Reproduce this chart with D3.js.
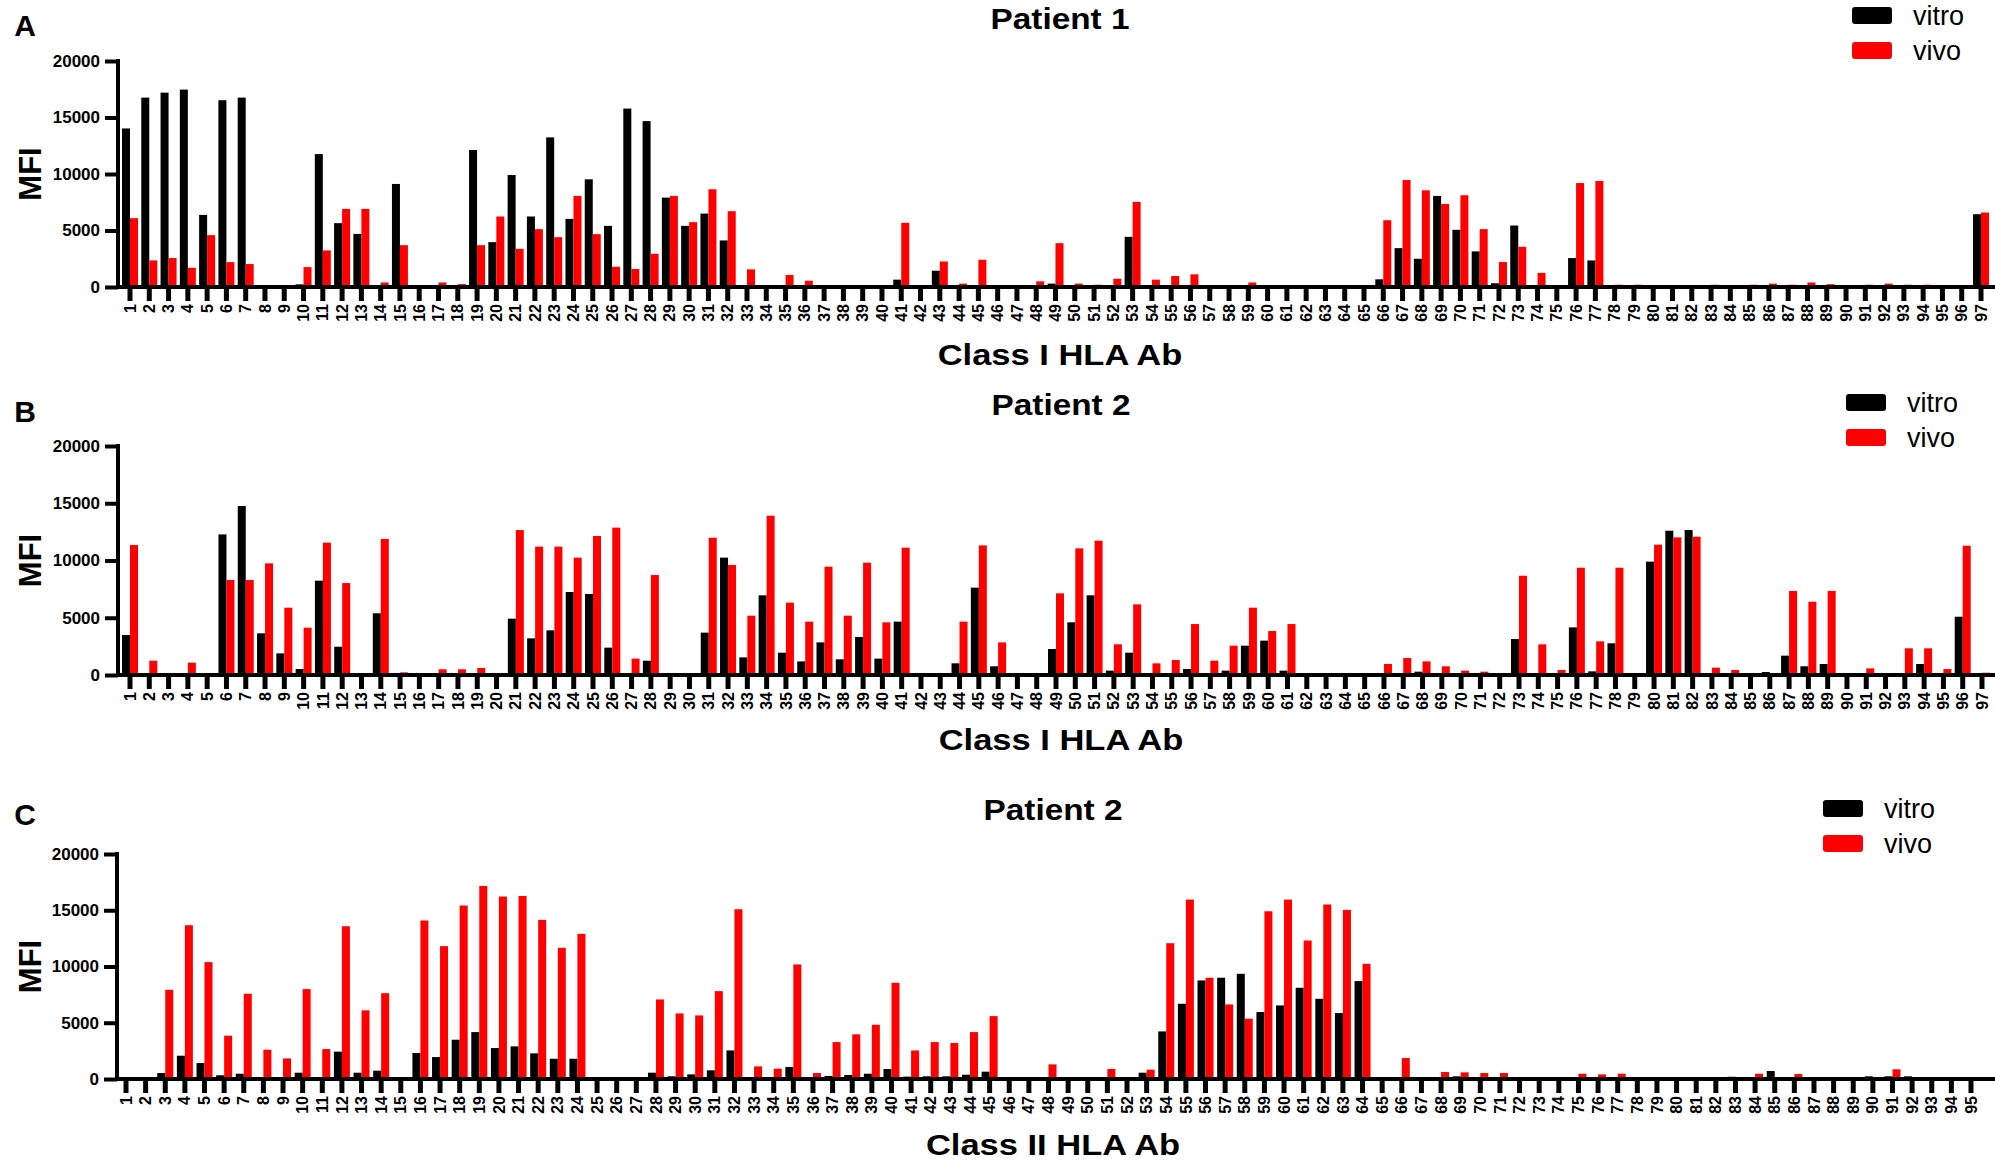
<!DOCTYPE html>
<html lang="en">
<head>
<meta charset="UTF-8">
<title>HLA Ab MFI</title>
<style>
  body { margin: 0; background: #fff; }
  text { font-family: Arial, "Liberation Sans", sans-serif; }
</style>
</head>
<body>
<svg id="chart" width="1995" height="1163"></svg>
<script src="https://d3js.org/d3.v7.min.js"></script>
<script>
// categories (antibody index)
const catsClassI = d3.range(1, 98).map(String);
const catsClassII = d3.range(1, 96).map(String);
const yTicks = [0, 5000, 10000, 15000, 20000];
const series = ["vitro", "vivo"];

// Panel A - Patient 1, class I
const vitroA = [14030,16760,17200,17470,6380,16530,16760,0,0,235,
  11760,5650,4700,0,9120,0,0,0,12120,3970,
  9910,6240,13240,6030,9530,5410,15790,14680,7910,5410,
  6500,4120,0,0,0,0,0,0,0,0,
  650,0,1440,0,50,0,0,60,300,0,
  0,0,4440,0,0,0,0,0,0,0,
  0,0,0,0,0,680,3440,2500,8060,5060,
  3150,330,5440,0,0,2560,2350,0,0,0,
  0,0,0,0,0,80,0,0,0,0,
  0,0,0,0,0,0,6440];
const vivoA = [6090,2350,2560,1700,4590,2200,2030,150,100,1760,
  3240,6910,6910,400,3700,100,400,260,3700,6240,
  3380,5120,4410,8060,4680,1790,1590,2940,8060,5740,
  8650,6710,1560,0,1060,560,0,100,0,0,
  5680,0,2260,300,2410,80,80,500,3880,300,
  200,730,7530,650,970,1120,0,150,400,0,
  0,0,0,0,0,5910,9470,8560,7350,8120,
  5120,2210,3560,1250,0,9200,9380,200,200,100,
  100,100,200,150,200,300,200,400,250,150,
  200,300,200,200,0,100,6590];

// Panel B - Patient 2, class I
const vitroB = [3490,0,0,0,0,12280,14760,3640,1890,520,
  8240,2470,0,5390,0,0,0,0,0,0,
  4920,3200,3900,7250,7070,2390,0,1250,0,0,
  3700,10250,1540,6960,1950,1190,2850,1370,3320,1430,
  4660,0,0,1020,7630,760,0,0,2270,4600,
  6960,380,1950,0,0,520,0,380,2560,3000,
  380,0,0,0,0,0,0,290,0,0,
  0,0,3140,0,0,4160,320,2770,0,9900,
  12600,12660,0,0,170,260,1690,760,960,0,
  0,170,170,960,0,5090,0];
const vivoB = [11350,1250,0,1080,0,8300,8300,9750,5880,4130,
  11560,8030,0,11880,230,0,500,500,610,0,
  12660,11210,11210,10250,12140,12870,1430,8730,0,0,
  11990,9610,5180,13910,6320,4660,9460,5180,9810,4600,
  11120,0,0,4660,11320,2850,150,0,7130,11060,
  11730,2680,6170,1020,1310,4450,1250,2560,5880,3840,
  4450,0,0,0,0,960,1480,1190,760,380,
  290,0,8670,2680,440,9370,2940,9370,0,11380,
  12020,12080,640,440,0,170,7340,6400,7340,0,
  580,170,2330,2330,520,11290,200];

// Panel C - Patient 2, class II
const vitroC = [0,0,530,2070,1420,330,470,180,100,560,
  180,2430,560,740,0,2310,1950,3490,4170,2750,
  2900,2280,1800,1800,0,0,0,560,240,410,
  770,2540,120,0,1070,0,270,360,470,890,
  210,240,240,380,650,90,0,0,0,0,
  150,0,560,4230,6690,8760,9000,9350,5950,6540,
  8110,7130,5860,8700,0,150,90,90,240,0,
  0,90,100,0,0,0,0,120,80,80,
  80,0,200,0,710,0,80,0,80,240,
  240,240,80,100,80];
const vivoC = [0,0,7930,13670,10390,3850,7580,2600,1830,7990,
  2660,13580,6100,7630,120,14090,11810,15420,17160,16220,
  16270,14140,11660,12900,0,0,0,7070,5830,5650,
  7810,15090,1120,920,10180,530,3280,3970,4820,8550,
  2540,3280,3200,4170,5590,0,0,1300,90,90,
  890,150,830,12070,15950,9000,6630,5360,14910,15950,
  12310,15510,15030,10240,150,1860,0,620,590,530,
  530,0,0,0,470,410,470,0,0,0,
  0,0,0,470,120,440,0,0,0,0,
  860,0,0,0,0];

const colors = { vitro: "#000000", vivo: "#ff0000" };
const svg = d3.select("#chart");

function drawPanel(p) {
  const g = svg.append("g");
  const n = p.cats.length;
  const step = (p.lastX - p.firstX) / (n - 1);

  const x = d3.scaleBand()
    .domain(p.cats)
    .range([p.firstX - step / 2, p.lastX + step / 2])
    .padding(0);
  const y = d3.scaleLinear().domain([0, 20000]).range([p.y0, p.y1]);
  const bw = 8;
  const xs = d3.scaleBand().domain(series).range([-bw, bw]);

  const rows = p.cats.map((c, i) => ({ cat: c, vitro: p.vitro[i], vivo: p.vivo[i] }));

  // bars
  g.append("g")
    .selectAll("g")
    .data(rows)
    .join("g")
      .attr("transform", d => `translate(${x(d.cat) + x.bandwidth() / 2},0)`)
    .selectAll("rect")
    .data(d => series.map(s => ({ key: s, value: d[s] })))
    .join("rect")
      .attr("x", d => xs(d.key))
      .attr("width", xs.bandwidth())
      .attr("y", d => y(d.value))
      .attr("height", d => p.y0 - y(d.value))
      .attr("fill", d => colors[d.key]);

  // y axis
  const yAxis = g.append("g")
    .attr("transform", `translate(${p.axisX},0)`)
    .call(d3.axisLeft(y).tickValues(yTicks).tickFormat(d3.format("d"))
      .tickSize(13).tickSizeOuter(0).tickPadding(5));
  yAxis.select(".domain").attr("stroke-width", 4).attr("d", `M0,${p.y0 + 2}V${p.y1 - 2}`);
  yAxis.selectAll(".tick line").attr("stroke-width", 4);
  yAxis.selectAll(".tick text")
    .attr("font-size", 17).attr("font-weight", "bold").attr("fill", "#000")
    .attr("font-family", "Arial, 'Liberation Sans', sans-serif");

  // x axis
  const xAxis = g.append("g")
    .attr("transform", `translate(0,${p.y0})`)
    .call(d3.axisBottom(x).tickSize(14).tickSizeOuter(0));
  xAxis.select(".domain").remove();
  xAxis.append("line")
    .attr("x1", p.axisX - 2).attr("x2", 1995)
    .attr("stroke", "#000").attr("stroke-width", 4);
  xAxis.selectAll(".tick line").attr("stroke-width", 5);
  xAxis.selectAll(".tick text")
    .attr("transform", "rotate(-90)")
    .attr("text-anchor", "end")
    .attr("x", -17).attr("y", 0).attr("dy", "0.35em")
    .attr("font-size", 16).attr("font-weight", "bold").attr("fill", "#000")
    .attr("font-family", "Arial, 'Liberation Sans', sans-serif");

  // titles (the original lettering is a wide bold face, so stretch horizontally)
  g.append("text")
    .attr("transform", `translate(${p.titleX},${p.titleY}) scale(1.15,1)`)
    .attr("dy", "0.35em")
    .attr("text-anchor", "middle").attr("font-size", 29).attr("font-weight", "bold")
    .text(p.title);
  g.append("text")
    .attr("x", 25).attr("y", p.letterY).attr("dy", "0.35em")
    .attr("text-anchor", "middle").attr("font-size", 30).attr("font-weight", "bold")
    .text(p.letter);
  g.append("text")
    .attr("transform", `translate(${p.titleX},${p.xTitleY}) scale(1.15,1)`)
    .attr("dy", "0.35em")
    .attr("text-anchor", "middle").attr("font-size", 30).attr("font-weight", "bold")
    .text(p.xTitle);
  g.append("text")
    .attr("transform", `translate(30,${(p.y0 + p.y1) / 2}) rotate(-90)`)
    .attr("dy", "0.35em")
    .attr("text-anchor", "middle").attr("font-size", 31).attr("font-weight", "bold")
    .text("MFI");

  // legend
  const lg = g.append("g").attr("transform", `translate(${p.legX},${p.legY})`);
  series.forEach((s, i) => {
    lg.append("rect")
      .attr("x", 0).attr("y", i * 35).attr("width", 40).attr("height", 17)
      .attr("rx", 3).attr("fill", colors[s]);
    lg.append("text")
      .attr("x", p.legTextDx).attr("y", i * 35 + 8.5).attr("dy", "0.35em")
      .attr("font-size", 27).text(s);
  });
}

drawPanel({
  cats: catsClassI, vitro: vitroA, vivo: vivoA,
  y0: 287, y1: 61, axisX: 118, firstX: 130, lastX: 1981,
  title: "Patient 1", titleX: 1060, titleY: 19, letter: "A", letterY: 25,
  xTitle: "Class I HLA Ab", xTitleY: 354,
  legX: 1852, legY: 7, legTextDx: 61
});
drawPanel({
  cats: catsClassI, vitro: vitroB, vivo: vivoB,
  y0: 675, y1: 446, axisX: 118, firstX: 130, lastX: 1982,
  title: "Patient 2", titleX: 1061, titleY: 405, letter: "B", letterY: 411,
  xTitle: "Class I HLA Ab", xTitleY: 739,
  legX: 1846, legY: 394, legTextDx: 61
});
drawPanel({
  cats: catsClassII, vitro: vitroC, vivo: vivoC,
  y0: 1079, y1: 854, axisX: 117, firstX: 126, lastX: 1971,
  title: "Patient 2", titleX: 1053, titleY: 810, letter: "C", letterY: 814,
  xTitle: "Class II HLA Ab", xTitleY: 1144,
  legX: 1823, legY: 800, legTextDx: 61
});
</script>
</body>
</html>
